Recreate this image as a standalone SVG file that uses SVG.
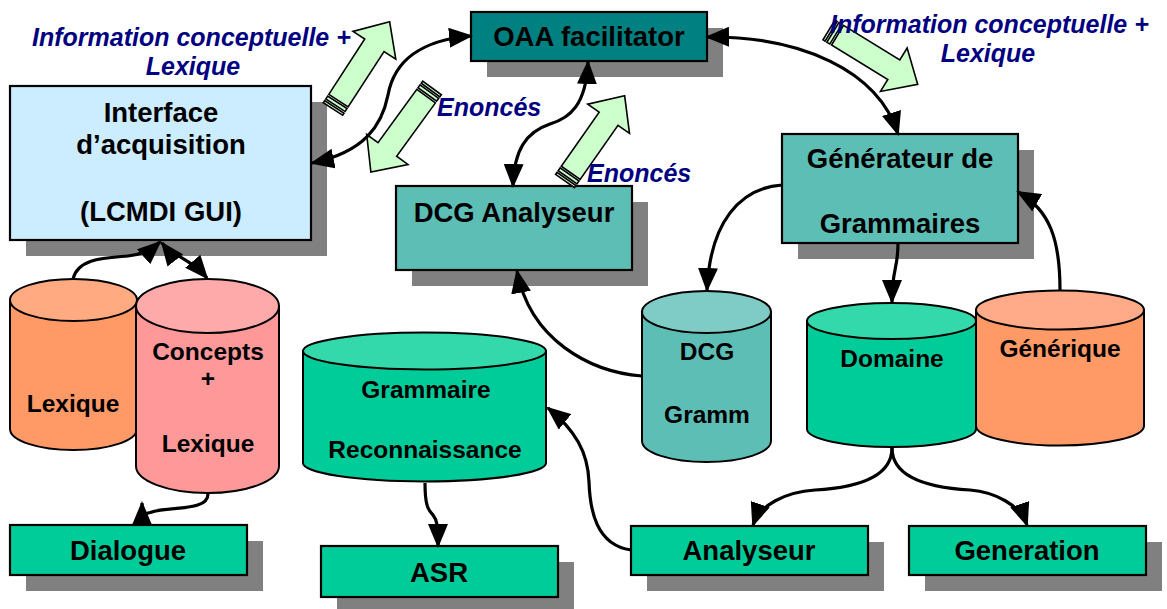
<svg xmlns="http://www.w3.org/2000/svg" xmlns:xlink="http://www.w3.org/1999/xlink" width="1167" height="609" viewBox="0 0 1167 609">
  <style>
    .shadow { fill: #808080; }
    .box { stroke: #000; stroke-width: 2.2; }
    .lbl { font-family: "Liberation Sans", Arial, sans-serif; font-weight: bold; font-size: 27.5px; fill: #000; text-anchor: middle; }
    .clbl { font-family: "Liberation Sans", Arial, sans-serif; font-weight: bold; font-size: 24.5px; fill: #000; text-anchor: middle; }
    .note { font-family: "Liberation Sans", Arial, sans-serif; font-weight: bold; font-style: italic; font-size: 25px; fill: #000080; }
    .cyl { stroke: #000; stroke-width: 2; }
    .conn { fill: none; stroke: #000; stroke-width: 3.2; }
    .flow { fill: #CCFFCC; stroke: #000; stroke-width: 1.6; stroke-linejoin: miter; }
  </style>
  <defs>
    <marker id="ah" viewBox="0 0 24 20" refX="22" refY="10" markerWidth="24" markerHeight="20" markerUnits="userSpaceOnUse" orient="auto-start-reverse">
      <path d="M0,0 L24,10 L0,20 z" fill="#000"/>
    </marker>
    <!-- striped block arrow, tail at origin, pointing along +x -->
    <g id="blockArrow">
      <path class="flow" d="M10,-11.5 L76,-11.5 L76,-25.5 L104,0 L76,25.5 L76,11.5 L10,11.5 Z"/>
      <rect class="flow" x="0" y="-11.5" width="2.5" height="23"/>
      <rect class="flow" x="4.5" y="-11.5" width="3.5" height="23"/>
    </g>
  </defs>

  <rect width="1167" height="609" fill="#fff"/>

  <!-- boxes -->
  <g id="interface">
    <rect class="shadow" x="26" y="102" width="301" height="154"/>
    <rect class="box" x="10" y="86" width="301" height="154" fill="#CCECFF"/>
    <text class="lbl" x="161" y="122">Interface</text>
    <text class="lbl" x="161" y="154">d’acquisition</text>
    <text class="lbl" x="161" y="221">(LCMDI GUI)</text>
  </g>
  <g id="oaa">
    <rect class="shadow" x="487" y="28" width="236" height="49"/>
    <rect class="box" x="471" y="12" width="236" height="49" fill="#008080"/>
    <text class="lbl" x="589" y="46">OAA facilitator</text>
  </g>
  <g id="dcg-analyseur">
    <rect class="shadow" x="412" y="202" width="236" height="84"/>
    <rect class="box" x="396" y="186" width="236" height="84" fill="#5DBEB6"/>
    <text class="lbl" x="514" y="222">DCG Analyseur</text>
  </g>
  <g id="generateur">
    <rect class="shadow" x="798" y="150" width="236" height="109"/>
    <rect class="box" x="782" y="134" width="236" height="109" fill="#5DBEB6"/>
    <text class="lbl" x="900" y="168">Générateur de</text>
    <text class="lbl" x="900" y="233">Grammaires</text>
  </g>
  <g id="dialogue">
    <rect class="shadow" x="26" y="541" width="237" height="50"/>
    <rect class="box" x="10" y="525" width="237" height="50" fill="#00CC99"/>
    <text class="lbl" x="128" y="560">Dialogue</text>
  </g>
  <g id="asr">
    <rect class="shadow" x="337" y="562" width="237" height="51"/>
    <rect class="box" x="321" y="546" width="237" height="51" fill="#00CC99"/>
    <text class="lbl" x="439" y="582">ASR</text>
  </g>
  <g id="analyseur">
    <rect class="shadow" x="647" y="542" width="237" height="49"/>
    <rect class="box" x="631" y="526" width="237" height="49" fill="#00CC99"/>
    <text class="lbl" x="749" y="560">Analyseur</text>
  </g>
  <g id="generation">
    <rect class="shadow" x="925" y="542" width="237" height="49"/>
    <rect class="box" x="909" y="526" width="237" height="49" fill="#00CC99"/>
    <text class="lbl" x="1027" y="560">Generation</text>
  </g>

  <!-- cylinders -->
  <g id="lexique">
    <path class="cyl" fill="#FF9966" d="M10,300 L10,429 A63.5,21 0 0 0 137,429 L137,300 Z"/>
    <ellipse class="cyl" cx="73.5" cy="300" rx="63.5" ry="21" fill="#FFAA80"/>
    <text class="clbl" x="73" y="412">Lexique</text>
  </g>
  <g id="concepts-lexique">
    <path class="cyl" fill="#FF9999" d="M136,306 L136,466 A71.5,27 0 0 0 279,466 L279,306 Z"/>
    <ellipse class="cyl" cx="207.5" cy="306" rx="71.5" ry="27" fill="#FFAAAA"/>
    <text class="clbl" x="208" y="360">Concepts</text>
    <text class="clbl" x="208" y="387">+</text>
    <text class="clbl" x="208" y="452">Lexique</text>
  </g>
  <g id="grammaire-reconnaissance">
    <path class="cyl" fill="#00CC99" d="M303,351 L303,463 A121.5,18.5 0 0 0 546,463 L546,351 Z"/>
    <ellipse class="cyl" cx="424.5" cy="351" rx="121.5" ry="18.5" fill="#33D9AA"/>
    <text class="clbl" x="426" y="398">Grammaire</text>
    <text class="clbl" x="425" y="458">Reconnaissance</text>
  </g>
  <g id="dcg-gramm">
    <path class="cyl" fill="#5DBEB6" d="M642,312 L642,441 A64.5,21 0 0 0 771,441 L771,312 Z"/>
    <ellipse class="cyl" cx="706.5" cy="312" rx="64.5" ry="21" fill="#7FCBC5"/>
    <text class="clbl" x="707" y="360">DCG</text>
    <text class="clbl" x="707" y="423">Gramm</text>
  </g>
  <g id="generique">
    <path class="cyl" fill="#FF9966" d="M976,310 L976,426 A84,19.5 0 0 0 1144,426 L1144,310 Z"/>
    <ellipse class="cyl" cx="1060" cy="310" rx="84" ry="19.5" fill="#FFAA88"/>
    <text class="clbl" x="1060" y="357">Générique</text>
  </g>
  <g id="domaine">
    <path class="cyl" fill="#00CC99" d="M807,321 L807,429 A84.5,18 0 0 0 976,429 L976,321 Z"/>
    <ellipse class="cyl" cx="891.5" cy="321" rx="84.5" ry="18" fill="#33D9AA"/>
    <text class="clbl" x="892" y="367">Domaine</text>
  </g>

  <!-- striped flow arrows -->
  <g id="flow-arrows">
    <use xlink:href="#blockArrow" transform="translate(333,109) rotate(-57)"/>
    <use xlink:href="#blockArrow" transform="translate(432,88) rotate(126)"/>
    <use xlink:href="#blockArrow" transform="translate(565,181) rotate(-55)"/>
    <use xlink:href="#blockArrow" transform="translate(829,30) rotate(31.5)"/>
  </g>

  <!-- connectors -->
  <g id="connectors">
    <path class="conn" marker-start="url(#ah)" marker-end="url(#ah)" d="M312,163 C365,152 382,125 388,95 C394,62 420,40 471,36"/>
    <path class="conn" marker-start="url(#ah)" marker-end="url(#ah)" d="M588,62 C586,105 570,118 550,124 C526,132 514,150 513,186"/>
    <path class="conn" marker-start="url(#ah)" marker-end="url(#ah)" d="M707,37 C800,36 878,70 898,134"/>
    <path class="conn" marker-end="url(#ah)" d="M782,185 C740,188 710,222 707,290"/>
    <path class="conn" marker-end="url(#ah)" d="M898,243 C898,270 892,268 892,302"/>
    <path class="conn" marker-end="url(#ah)" d="M1060,290 C1060,240 1050,210 1018,192"/>
    <path class="conn" marker-end="url(#ah)" d="M642,376 C590,372 530,340 517,271"/>
    <path class="conn" marker-end="url(#ah)" d="M631,550 C596,545 590,510 589,482 C588,452 575,430 548,408"/>
    <path class="conn" marker-end="url(#ah)" d="M425,483 C425,505 428,510 433,515 C437,520 438,525 438,546"/>
    <path class="conn" marker-end="url(#ah)" d="M892,448 C892,480 850,488 815,490 C785,492 760,505 753,525"/>
    <path class="conn" marker-end="url(#ah)" d="M892,448 C892,480 935,488 970,490 C995,492 1020,505 1027,525"/>
    <path class="conn" marker-end="url(#ah)" d="M73,279 C78,258 105,258 128,256 C140,255 150,251 160,242"/>
    <path class="conn" marker-start="url(#ah)" marker-end="url(#ah)" d="M162,243 C172,256 190,258 207,278"/>
    <path class="conn" marker-end="url(#ah)" d="M208,493 C209,512 170,506 152,512 C146,514 142,516 142,503"/>
  </g>

  <!-- flow labels -->
  <g id="labels">
    <text class="note" x="32" y="46">Information conceptuelle +</text>
    <text class="note" x="193" y="75" text-anchor="middle">Lexique</text>
    <text class="note" x="437" y="116">Enoncés</text>
    <text class="note" x="587" y="182">Enoncés</text>
    <text class="note" x="830" y="33">Information conceptuelle +</text>
    <text class="note" x="988" y="62" text-anchor="middle">Lexique</text>
  </g>
</svg>
